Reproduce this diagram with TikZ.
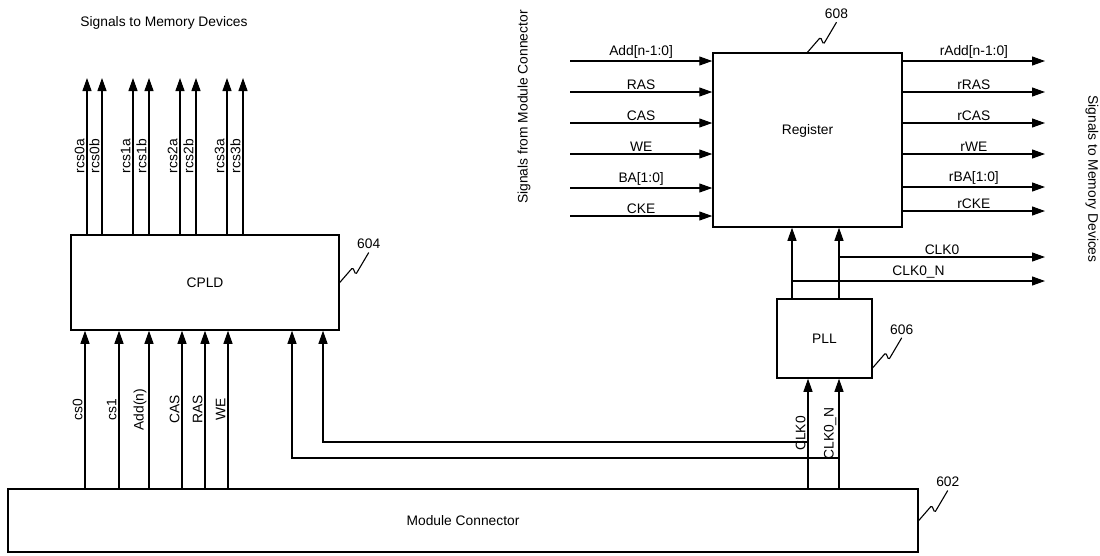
\documentclass[tikz,border=0pt]{standalone}
\usepackage{fontspec}
\setmainfont{Liberation Sans}
\usetikzlibrary{arrows.meta, positioning}

\begin{document}
\begin{tikzpicture}[
  x=1pt, y=-1pt,
  every node/.style={font=\fontsize{13.8}{16}\selectfont},
  box/.style={rectangle, draw=black, line width=1.5pt, inner sep=0pt},
  sig/.style={line width=1.1pt, -{Triangle[length=13pt, width=9pt]}},
  wire/.style={line width=1.1pt},
  lbl/.style={inner sep=2pt},
  leader/.style={line width=1.1pt, rounded corners=1.5pt}
]
\useasboundingbox (0,0) rectangle (1100,555);

% blocks
\node[box, minimum width=268pt, minimum height=95pt] (cpld) at (205,282.5) {CPLD};
\node[box, minimum width=189pt, minimum height=174pt] (reg) at (807.5,140) {};
\node at ([yshift=9pt]reg.center) {Register};
\node[box, minimum width=95pt, minimum height=79pt] (pll) at (824.5,338.5) {PLL};
\node[box, minimum width=910pt, minimum height=63pt] (mc) at (463,520.5) {Module Connector};

% side captions
\node (memtop) at (164,23) {Signals to Memory Devices};
\node[rotate=90] (srcside) at (524,107) {Signals from Module Connector};
\node[rotate=-90] (dstside) at (1092,179) {Signals to Memory Devices};

% CPLD chip selects out
\foreach \x/\t in {87/rcs0a, 102/rcs0b, 133/rcs1a, 149/rcs1b, 180/rcs2a, 196/rcs2b, 227/rcs3a, 243/rcs3b} {
  \coordinate (o-\t) at (\x,78);
  \draw[sig] (o-\t |- cpld.north) -- (o-\t) node[midway, sloped, above, lbl] {\t};
}

% CPLD inputs from module connector
\foreach \x/\t in {85/cs0, 119/cs1, 149/Add(n), 182/CAS, 205/RAS, 228/WE}
  \draw[sig] (\x,0 |- mc.north) -- (\x,0 |- cpld.south) node[midway, sloped, above, lbl] {\t};

% register inputs
\foreach \y/\t [count=\i] in {61/{Add[n-1:0]}, 92/RAS, 123/CAS, 154/WE, 188/{BA[1:0]}, 216/CKE} {
  \coordinate (in\i) at (570,\y);
  \draw[sig] (in\i) -- (in\i -| reg.west) node[midway, above, lbl] {\t};
}

% register outputs
\foreach \y/\t [count=\i] in {61/{rAdd[n-1:0]}, 92/rRAS, 123/rCAS, 154/rWE, 187/{rBA[1:0]}, 211/rCKE} {
  \coordinate (out\i) at (1045,\y);
  \draw[sig] (out\i -| reg.east) -- (out\i) node[midway, above, lbl] {\t};
}

% clocks into PLL
\coordinate (clk) at (808,0);
\coordinate (clkn) at (839,0);
\draw[sig] (clk |- mc.north) -- (clk |- pll.south) node[midway, sloped, above, lbl] {CLK0};
\draw[sig] (clkn |- mc.north) -- (clkn |- pll.south) node[midway, sloped, above, lbl] {CLK0\_N};

% clocks into CPLD
\coordinate (tapA) at (808,442);
\coordinate (tapB) at (839,458);
\coordinate (cinA) at (323,0);
\coordinate (cinB) at (292,0);
\draw[sig] (tapA) -| (cinA |- cpld.south);
\draw[sig] (tapB) -| (cinB |- cpld.south);

% PLL outputs
\coordinate (pA) at (792,0);
\coordinate (pB) at (839,0);
\draw[sig] (pA |- pll.north) -- (pA |- reg.south);
\draw[sig] (pB |- pll.north) -- (pB |- reg.south);
\coordinate (brA) at (839,257);
\coordinate (brB) at (792,281);
\coordinate (endA) at (1045,257);
\coordinate (endB) at (1045,281);
\draw[sig] (brA) -- (endA) node[midway, above, lbl] {CLK0};
\draw[sig] (brB) -- (endB) node[midway, above, lbl] {CLK0\_N};

% reference numerals
\draw[leader] (cpld.east) -- +(13,-15) -- +(16,-8) -- +(29,-30) node[above, inner sep=3pt] {604};
\draw[leader] (reg.north) -- +(13,-15) -- +(16,-8) -- +(29,-30) node[above, inner sep=3pt] {608};
\draw[leader] ([yshift=11pt]pll.south east) -- +(13,-15) -- +(16,-8) -- +(29,-30) node[above, inner sep=3pt] {606};
\draw[leader] (mc.east) -- +(13,-15) -- +(16,-8) -- +(29,-30) node[above, inner sep=3pt] {602};
\end{tikzpicture}
\end{document}
